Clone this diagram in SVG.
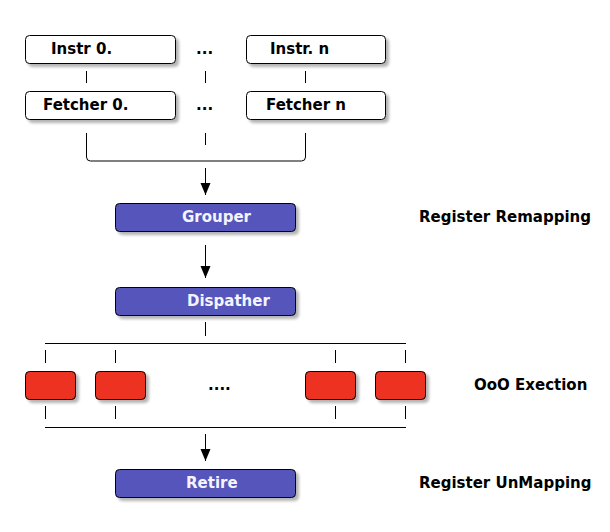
<svg xmlns="http://www.w3.org/2000/svg" width="610" height="532" viewBox="0 0 610 532">
<defs>
<filter id="sh" x="-10%" y="-20%" width="130%" height="160%">
<feGaussianBlur in="SourceAlpha" stdDeviation="1.5"/>
<feOffset dx="3" dy="3" result="b"/>
<feComponentTransfer><feFuncA type="linear" slope="0.3"/></feComponentTransfer>
<feMerge><feMergeNode/><feMergeNode in="SourceGraphic"/></feMerge>
</filter>
<marker id="arr" markerWidth="13" markerHeight="12" refX="12" refY="5" orient="auto" markerUnits="userSpaceOnUse">
<path d="M0,0 L12,5 L0,10 Z" fill="#000"/>
</marker>
</defs>
<style>
.w{fill:#fff;stroke:#000;stroke-width:1}
.b{fill:#5555bb;stroke:#000;stroke-width:1}
.r{fill:#ee3322;stroke:#000;stroke-width:1}
.t{font-family:"DejaVu Sans",Verdana,sans-serif;font-weight:bold;font-size:15px;fill:#000}
.tw{font-family:"DejaVu Sans",Verdana,sans-serif;font-weight:bold;font-size:15px;fill:#f4f4ff}
.l{stroke:#000;stroke-width:1;fill:none}
</style>
<rect width="610" height="532" fill="#fff"/>
<g id="connectors">
<path class="l" d="M86.5,71 V83 M205.5,71 V83 M305.5,71 V83"/>
<path class="l" d="M86.5,133 V157 Q86.5,161 90.5,161 H301.5 Q305.5,161 305.5,157 V133 M205.5,133 V145"/>
<path class="l" d="M205.5,168 V195" marker-end="url(#arr)"/>
<path class="l" d="M205.5,245 V278" marker-end="url(#arr)"/>
<path class="l" d="M205.5,322 V336"/>
<path class="l" d="M45,343.5 H406"/>
<path class="l" d="M45.5,350 V363 M115.5,350 V363 M335.5,350 V363 M405.5,350 V363"/>
<path class="l" d="M45.5,406 V419 M115.5,406 V419 M335.5,406 V419 M405.5,406 V419"/>
<path class="l" d="M45,427.5 H406"/>
<path class="l" d="M205.5,434 V461" marker-end="url(#arr)"/>
</g>
<g id="instr0"><rect class="w" x="25.5" y="35.5" width="150" height="28" rx="4" filter="url(#sh)"/><text class="t" x="51" y="54">Instr 0.</text></g>
<g id="instrdots"><text class="t" x="196" y="54">...</text></g>
<g id="instrn"><rect class="w" x="246.5" y="35.5" width="139" height="28" rx="4" filter="url(#sh)"/><text class="t" x="270" y="54">Instr. n</text></g>
<g id="fetcher0"><rect class="w" x="25.5" y="91.5" width="150" height="28" rx="4" filter="url(#sh)"/><text class="t" x="43" y="110">Fetcher 0.</text></g>
<g id="fetcherdots"><text class="t" x="196" y="110">...</text></g>
<g id="fetchern"><rect class="w" x="246.5" y="91.5" width="139" height="28" rx="4" filter="url(#sh)"/><text class="t" x="266" y="110">Fetcher n</text></g>
<g id="grouper"><rect class="b" x="115.5" y="203.5" width="180" height="28" rx="4" filter="url(#sh)"/><text class="tw" x="182" y="222">Grouper</text></g>
<g id="dispather"><rect class="b" x="115.5" y="287.5" width="180" height="28" rx="4" filter="url(#sh)"/><text class="tw" x="187" y="306">Dispather</text></g>
<g id="ex1"><rect class="r" x="25.5" y="371.5" width="50" height="28" rx="4" filter="url(#sh)"/></g>
<g id="ex2"><rect class="r" x="95.5" y="371.5" width="50" height="28" rx="4" filter="url(#sh)"/></g>
<g id="exdots"><text class="t" x="208" y="390">....</text></g>
<g id="ex3"><rect class="r" x="305.5" y="371.5" width="50" height="28" rx="4" filter="url(#sh)"/></g>
<g id="ex4"><rect class="r" x="375.5" y="371.5" width="50" height="28" rx="4" filter="url(#sh)"/></g>
<g id="retire"><rect class="b" x="115.5" y="469.5" width="180" height="28" rx="4" filter="url(#sh)"/><text class="tw" x="186" y="488">Retire</text></g>
<g id="labels">
<text class="t" x="419" y="222">Register Remapping</text>
<text class="t" x="474" y="390">OoO Exection</text>
<text class="t" x="419" y="488">Register UnMapping</text>
</g>
</svg>
